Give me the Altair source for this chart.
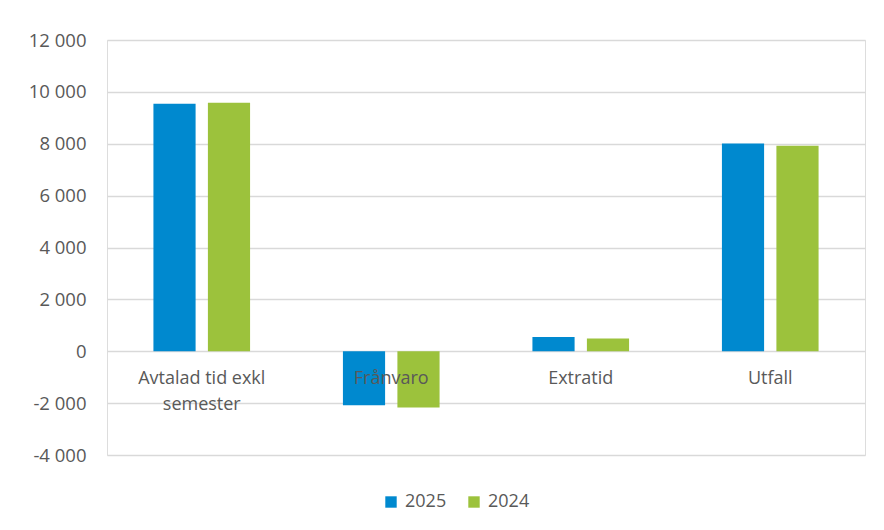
import altair as alt
import pandas as pd

categories = ["Avtalad tid exkl semester", "Frånvaro", "Extratid", "Utfall"]
years = ["2025", "2024"]
values_2025 = [9540, -2080, 550, 8010]
values_2024 = [9580, -2170, 490, 7920]
y_ticks = [-4000, -2000, 0, 2000, 4000, 6000, 8000, 10000, 12000]

rows = []
for c, a, b in zip(categories, values_2025, values_2024):
    rows.append({"kategori": c, "år": "2025", "värde": a})
    rows.append({"kategori": c, "år": "2024", "värde": b})
df = pd.DataFrame(rows)

FONT = "Open Sans"
GREY = "#595959"
W, H = 758, 415
zero_offset = -(H * (0 - (-4000)) / 16000)

base = alt.Chart(df)

bars = base.mark_bar().encode(
    x=alt.X(
        "kategori:N",
        sort=categories,
        title=None,
        scale=alt.Scale(paddingInner=0.49, paddingOuter=0.245),
        axis=alt.Axis(
            orient="bottom",
            offset=zero_offset,
            domain=False,
            ticks=False,
            grid=False,
            labelAngle=0,
            labelFont=FONT,
            labelFontSize=18,
            labelColor=GREY,
            labelPadding=18,
            labelLineHeight=26,
            labelExpr="datum.label == 'Avtalad tid exkl semester' ? ['Avtalad tid exkl', 'semester'] : datum.label",
            zindex=1,
        ),
    ),
    xOffset=alt.XOffset("år:N", sort=years, scale=alt.Scale(paddingInner=0.226, paddingOuter=0)),
    y=alt.Y(
        "värde:Q",
        title=None,
        scale=alt.Scale(domain=[-4000, 12000], nice=False, zero=False),
        axis=alt.Axis(
            values=y_ticks,
            domain=False,
            ticks=False,
            grid=True,
            gridColor="#d9d9d9",
            gridWidth=1.5,
            labelFont=FONT,
            labelFontSize=18.5,
            labelColor=GREY,
            labelPadding=21,
            labelExpr="(datum.value < 0 ? '-' : '') + replace(format(abs(datum.value), ','), ',', ' ')",
        ),
    ),
    color=alt.Color(
        "år:N",
        sort=years,
        scale=alt.Scale(domain=years, range=["#0089CF", "#9CC23C"]),
        legend=alt.Legend(
            title=None,
            orient="none",
            direction="horizontal",
            legendX=275,
            legendY=453,
            symbolType="square",
            symbolSize=130,
            symbolStrokeWidth=0,
            labelFont=FONT,
            labelFontSize=18,
            labelColor=GREY,
            columnPadding=18,
            labelOffset=5,
        ),
    ),
)

chart = bars.properties(
    width=W,
    height=H,
    padding={"left": 99, "top": 32, "right": 11, "bottom": 67},
    autosize=alt.AutoSizeParams(type="none"),
).configure_view(stroke=None).configure(background="white")

chart.save("out.html", embed_options={"renderer": "svg", "actions": False})
